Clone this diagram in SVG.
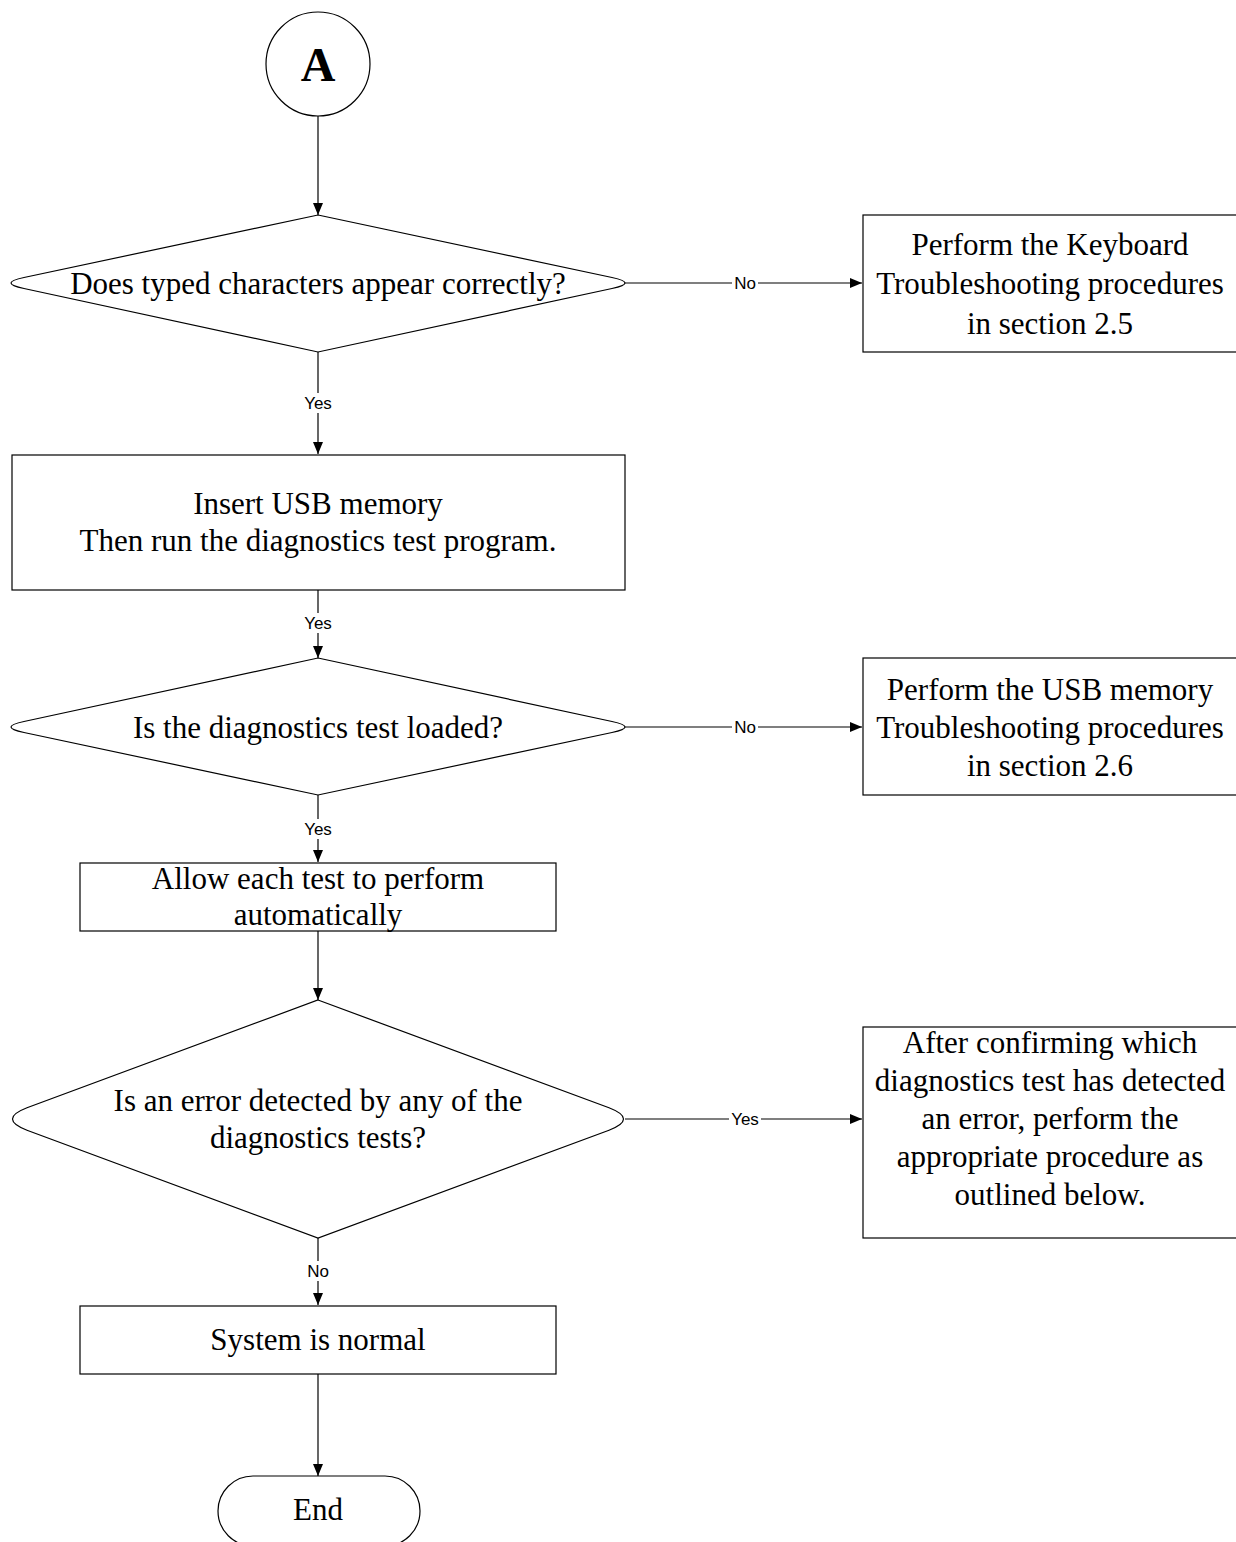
<svg xmlns="http://www.w3.org/2000/svg" width="1236" height="1542" viewBox="0 0 1236 1542">
<defs>
<marker id="ah" markerWidth="12" markerHeight="10" refX="12" refY="5" orient="auto" markerUnits="userSpaceOnUse">
<path d="M0,0 L12,5 L0,10 Z" fill="#000"/>
</marker>
<style>
.s{fill:#fff;stroke:#000;stroke-width:1.2}
.t{font-family:"Liberation Serif","Times New Roman",serif;font-size:31px;fill:#000;text-anchor:middle}
.l{font-family:"Liberation Sans",Arial,sans-serif;font-size:17px;fill:#000;text-anchor:middle}
.c{fill:none;stroke:#000;stroke-width:1.2}
.lb{fill:#fff}
</style>
</defs>
<rect width="1236" height="1542" fill="#fff"/>
<g id="connectors">
<line class="c" x1="318" y1="116" x2="318" y2="215" marker-end="url(#ah)"/>
<line class="c" x1="625" y1="283" x2="862" y2="283" marker-end="url(#ah)"/>
<line class="c" x1="318" y1="352" x2="318" y2="454" marker-end="url(#ah)"/>
<line class="c" x1="318" y1="590" x2="318" y2="658" marker-end="url(#ah)"/>
<line class="c" x1="625" y1="727" x2="862" y2="727" marker-end="url(#ah)"/>
<line class="c" x1="318" y1="795" x2="318" y2="862" marker-end="url(#ah)"/>
<line class="c" x1="318" y1="931" x2="318" y2="1000" marker-end="url(#ah)"/>
<line class="c" x1="625" y1="1119" x2="862" y2="1119" marker-end="url(#ah)"/>
<line class="c" x1="318" y1="1238" x2="318" y2="1305" marker-end="url(#ah)"/>
<line class="c" x1="318" y1="1374" x2="318" y2="1476" marker-end="url(#ah)"/>
<rect class="lb" x="732" y="273" width="26" height="20"/>
<text class="l" x="745" y="289">No</text>
<rect class="lb" x="302" y="393" width="32" height="20"/>
<text class="l" x="318" y="409">Yes</text>
<rect class="lb" x="302" y="613" width="32" height="20"/>
<text class="l" x="318" y="629">Yes</text>
<rect class="lb" x="732" y="717" width="26" height="20"/>
<text class="l" x="745" y="733">No</text>
<rect class="lb" x="302" y="819" width="32" height="20"/>
<text class="l" x="318" y="835">Yes</text>
<rect class="lb" x="729" y="1109" width="32" height="20"/>
<text class="l" x="745" y="1125">Yes</text>
<rect class="lb" x="305" y="1261" width="26" height="20"/>
<text class="l" x="318" y="1277">No</text>
</g>
<g id="start">
<circle class="s" cx="318" cy="64" r="52"/>
<text x="318" y="81" font-family="Liberation Serif,serif" font-size="48" font-weight="bold" text-anchor="middle">A</text>
</g>
<g id="d1">
<path class="s" d="M318,215 L612,277.5 Q638,283 612,288.5 L318,352 L24,288.5 Q-2,283 24,277.5 Z"/>
<text class="t" x="318" y="294">Does typed characters appear correctly?</text>
</g>
<g id="kb">
<rect class="s" x="863" y="215" width="380" height="137"/>
<text class="t" x="1050" y="255">Perform the Keyboard</text>
<text class="t" x="1050" y="294">Troubleshooting procedures</text>
<text class="t" x="1050" y="334">in section 2.5</text>
</g>
<g id="usb">
<rect class="s" x="12" y="455" width="613" height="135"/>
<text class="t" x="318" y="514">Insert USB memory</text>
<text class="t" x="318" y="551">Then run the diagnostics test program.</text>
</g>
<g id="d2">
<path class="s" d="M318,658 L612,721.5 Q638,727 612,732.5 L318,795 L24,732.5 Q-2,727 24,721.5 Z"/>
<text class="t" x="318" y="738">Is the diagnostics test loaded?</text>
</g>
<g id="usbfix">
<rect class="s" x="863" y="658" width="380" height="137"/>
<text class="t" x="1050" y="700">Perform the USB memory</text>
<text class="t" x="1050" y="738">Troubleshooting procedures</text>
<text class="t" x="1050" y="776">in section 2.6</text>
</g>
<g id="allow">
<rect class="s" x="80" y="863" width="476" height="68"/>
<text class="t" x="318" y="889">Allow each test to perform</text>
<text class="t" x="318" y="925">automatically</text>
</g>
<g id="d3">
<path class="s" d="M318,1000 L609,1107.8 Q638,1119 609,1130.2 L318,1238 L27,1130.2 Q-2,1119 27,1107.8 Z"/>
<text class="t" x="318" y="1111">Is an error detected by any of the</text>
<text class="t" x="318" y="1148">diagnostics tests?</text>
</g>
<g id="errfix">
<rect class="s" x="863" y="1027" width="380" height="211"/>
<text class="t" x="1050" y="1053">After confirming which</text>
<text class="t" x="1050" y="1091">diagnostics test has detected</text>
<text class="t" x="1050" y="1129">an error, perform the</text>
<text class="t" x="1050" y="1167">appropriate procedure as</text>
<text class="t" x="1050" y="1205">outlined below.</text>
</g>
<g id="normal">
<rect class="s" x="80" y="1306" width="476" height="68"/>
<text class="t" x="318" y="1350">System is normal</text>
</g>
<g id="end">
<path class="s" d="M253,1476 L385,1476 A35,35 0 0 1 385,1546 L253,1546 A35,35 0 0 1 253,1476 Z"/>
<text class="t" x="318" y="1520">End</text>
</g>
</svg>
